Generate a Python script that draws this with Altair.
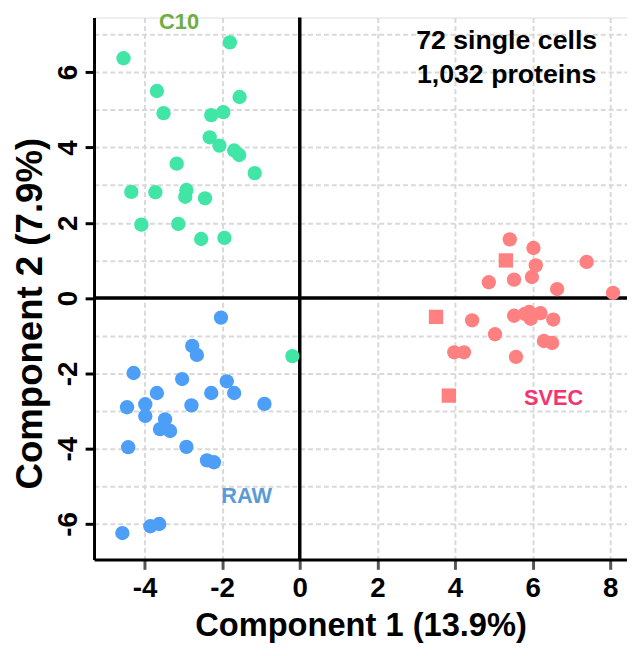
import altair as alt
import pandas as pd

# ---- data ----
c10_x = [-4.54, -1.80, -3.68, -1.55, -3.51, -2.28, -1.97, -2.32, -2.07, -1.69, -1.56, -3.17,
         -1.16, -4.34, -3.72, -2.92, -2.95, -2.44, -4.08, -3.13, -2.54, -1.94, -0.19]
c10_y = [6.37, 6.79, 5.50, 5.34, 4.91, 4.86, 4.94, 4.27, 4.05, 3.92, 3.80, 3.57,
         3.32, 2.82, 2.81, 2.87, 2.69, 2.65, 1.95, 1.97, 1.57, 1.60, -1.54]

raw_x = [-2.03, -2.77, -2.65, -4.28, -3.03, -1.88, -1.69, -3.68, -2.28, -0.91, -4.45, -3.98,
         -2.79, -3.98, -3.47, -3.60, -3.34, -4.42, -2.92, -2.39, -2.21, -4.57, -3.85, -3.62]
raw_y = [-0.52, -1.27, -1.51, -1.99, -2.15, -2.21, -2.52, -2.52, -2.52, -2.81, -2.90, -2.82,
         -2.85, -3.13, -3.22, -3.48, -3.53, -3.96, -3.95, -4.31, -4.36, -6.24, -6.06, -6.00]

svec_x = [5.41, 6.02, 5.31, 6.08, 7.39, 5.98, 5.52, 4.87, 6.63, 8.07, 3.51, 4.44, 5.52,
          5.91, 6.20, 5.95, 6.53, 5.03, 6.29, 6.50, 3.98, 4.23, 5.57, 3.84, 5.80]
svec_y = [1.56, 1.33, 1.00, 0.87, 0.96, 0.56, 0.49, 0.42, 0.24, 0.14, -0.50, -0.59, -0.47,
          -0.37, -0.40, -0.55, -0.57, -0.96, -1.14, -1.19, -1.44, -1.44, -1.56, -2.59, -0.42]
svec_shape = ["circle", "circle", "square", "circle", "circle", "circle", "circle", "circle",
              "circle", "circle", "square", "circle", "circle", "circle", "circle", "circle",
              "circle", "circle", "circle", "circle", "circle", "circle", "circle", "square",
              "circle"]

groups = ["C10", "RAW", "SVEC"]
point_colors = ["#41E6A6", "#4D9EF6", "#FF8080"]
label_colors = ["#6DAE45", "#5B9BD5", "#F5336E"]

x_ticks = [-4, -2, 0, 2, 4, 6, 8]
y_ticks = [-6, -5, -4, -3, -2, -1, 0, 1, 2, 3, 4, 5, 6, 7]

annot_lines = ["72 single cells", "1,032 proteins"]

df = pd.DataFrame({
    "x": c10_x + raw_x + svec_x,
    "y": c10_y + raw_y + svec_y,
    "group": ["C10"] * len(c10_x) + ["RAW"] * len(raw_x) + ["SVEC"] * len(svec_x),
    "shape": ["circle"] * (len(c10_x) + len(raw_x)) + svec_shape,
})

FONT = "Liberation Sans, Arial, sans-serif"

xscale = alt.Scale(domain=[-5.3, 8.43], nice=False, zero=False)
yscale = alt.Scale(domain=[-6.94, 7.45], nice=False, zero=False)

x_axis = alt.Axis(values=x_ticks, title="Component 1 (13.9%)", grid=True,
                  labelExpr="'' + datum.value",
                  gridDash=[5, 3], gridColor="#d9d9d9", gridWidth=2,
                  domainColor="black", domainWidth=3,
                  tickColor="#555555", tickWidth=3, tickSize=10,
                  labelFont=FONT, labelFontSize=28, labelFontWeight="bold",
                  labelColor="black", labelPadding=6,
                  titleFont=FONT, titleFontSize=33, titleFontWeight="bold",
                  titleColor="black", titlePadding=7)

y_axis = alt.Axis(values=y_ticks, title="Component 2 (7.9%)", grid=True,
                  gridDash=[5, 3], gridColor="#d9d9d9", gridWidth=2,
                  labelExpr="datum.value % 2 == 0 ? '' + datum.value : ''",
                  tickOpacity=alt.condition("datum.value % 2 == 0", alt.value(1), alt.value(0)),
                  domainColor="black", domainWidth=3,
                  tickColor="black", tickWidth=3, tickSize=9,
                  labelFont=FONT, labelFontSize=28, labelFontWeight="bold",
                  labelColor="black", labelAngle=270, labelAlign="center",
                  labelBaseline="bottom", labelPadding=3,
                  titleFont=FONT, titleFontSize=37, titleFontWeight="bold",
                  titleColor="black", titlePadding=5, titleY=299)

base = alt.Chart(df)

points = base.mark_point(filled=True, size=210, opacity=1, strokeWidth=0).encode(
    x=alt.X("x:Q", scale=xscale, axis=x_axis),
    y=alt.Y("y:Q", scale=yscale, axis=y_axis),
    color=alt.Color("group:N", scale=alt.Scale(domain=groups, range=point_colors), legend=None),
    shape=alt.Shape("shape:N", scale=alt.Scale(domain=["circle", "square"], range=["circle", "square"]), legend=None),
)

zero_df = pd.DataFrame({"v": [0]})
hline = alt.Chart(zero_df).mark_rule(color="black", strokeWidth=3.5).encode(y=alt.Y("v:Q", scale=yscale))
vline = alt.Chart(zero_df).mark_rule(color="black", strokeWidth=3.5).encode(x=alt.X("v:Q", scale=xscale))

def label(text, color, xv, yv):
    return alt.Chart(pd.DataFrame({"t": [text]})).mark_text(
        font=FONT, fontSize=22, fontWeight="bold", color=color,
        align="center", baseline="middle").encode(
        text="t:N", x=alt.datum(xv), y=alt.datum(yv))

lab_c10 = label(groups[0], label_colors[0], -3.11, 7.32)
lab_raw = label(groups[1], label_colors[1], -1.37, -5.27)
lab_svec = label(groups[2], label_colors[2], 6.54, -2.65)

def annot(text, yv):
    return alt.Chart(pd.DataFrame({"t": [text]})).mark_text(
        font=FONT, fontSize=27, fontWeight="bold", color="black",
        align="center", baseline="alphabetic").encode(
        text="t:N", x=alt.datum(5.33), y=alt.datum(yv))

ann1 = annot(annot_lines[0], 6.62)
ann2 = annot(annot_lines[1], 5.70)

chart = alt.layer(hline, vline, points, lab_c10, lab_raw, lab_svec, ann1, ann2).properties(
    width=539, height=548,
    autosize=alt.AutoSizeParams(type="none"),
    padding={"left": 87, "top": 6, "right": 0, "bottom": 92},
).configure_view(stroke=None).configure(background="white")

chart.save("out.html", embed_options={"renderer": "svg", "actions": False})
